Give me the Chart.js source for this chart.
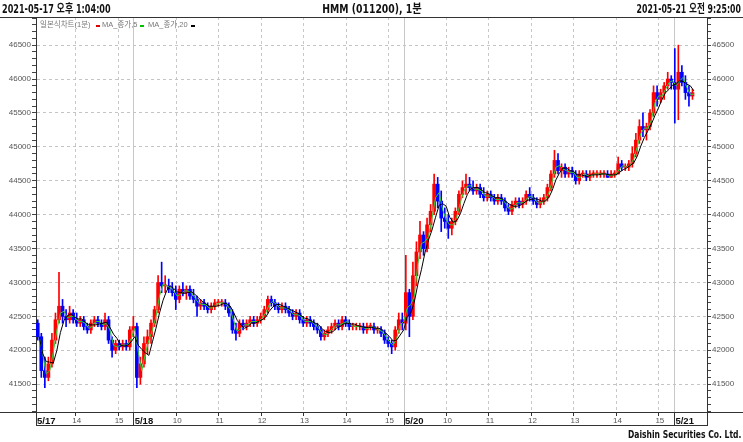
<!DOCTYPE html>
<html><head><meta charset="utf-8">
<script src="https://cdn.jsdelivr.net/npm/chart.js@4.4.1/dist/chart.umd.min.js"></script>
<style>
html,body{margin:0;padding:0;background:#fff;}
#wrap{position:relative;width:743px;height:442px;overflow:hidden;}
#c{position:absolute;left:0;top:0;}
.t{position:absolute;font-family:'DejaVu Sans Condensed','Noto Sans CJK KR',sans-serif;font-weight:bold;color:#111;white-space:nowrap;line-height:1;}
.lg{position:absolute;font-family:'Liberation Sans','Noto Sans CJK KR',sans-serif;font-size:7.5px;color:#777;white-space:nowrap;line-height:1;top:21px;}
.mk{position:absolute;width:4px;height:2px;top:25px;}
.hl{position:absolute;left:0;width:743px;height:1px;background:#333;}
</style></head>
<body><div id="wrap">
<canvas id="c" width="743" height="442"></canvas>
<div class="hl" style="top:17px"></div>
<div class="hl" style="top:412px"></div>
<div class="t" style="left:2px;top:3px;font-size:12px;transform:scaleX(0.75);transform-origin:left top">2021-05-17 오후 1:04:00</div>
<div class="t" style="left:372px;top:3px;font-size:12px;transform:translateX(-50%) scaleX(0.86);transform-origin:center top">HMM (011200), 1분</div>
<div class="t" style="right:2px;top:3px;font-size:12px;transform:scaleX(0.72);transform-origin:right top">2021-05-21 오전 9:25:00</div>
<div class="lg" style="left:40px">일본식차트(1분)</div><div class="mk" style="left:96px;background:#e00000"></div>
<div class="lg" style="left:102px">MA_종가,5</div><div class="mk" style="left:140px;background:#00c000"></div>
<div class="lg" style="left:148px">MA_종가,20</div><div class="mk" style="left:191px;background:#000"></div>
<div class="t" style="right:2px;top:429px;font-size:11px;transform:scaleX(0.77);transform-origin:right top">Daishin Securities Co. Ltd.</div>
</div>
<script>
// ---- data: 5-minute OHLC bars [open, high, low, close]
const ohlc0517 = [
 [42400,42450,42150,42200],[42200,42250,41600,41700],[41700,41900,41450,41600],[41600,41900,41550,41800],
 [41800,42250,41750,42150],[42150,42550,42100,42450],[42450,43150,42400,42650],[42650,42750,42400,42500],
 [42500,42600,42350,42450],[42450,42650,42400,42550],[42550,42600,42400,42450],[42450,42550,42350,42400],
 [42400,42500,42350,42450],[42450,42500,42300,42350],[42350,42400,42250,42300],[42300,42450,42250,42400],
 [42400,42500,42350,42450],[42450,42500,42350,42400],[42400,42450,42300,42350],[42350,42550,42300,42450],
 [42450,42500,42100,42150],[42150,42200,41900,42000],[42000,42150,41950,42100],[42100,42150,42000,42050],
 [42050,42150,42000,42100],[42100,42150,42000,42050],[42050,42350,42000,42300],[42300,42500,42200,42350]
];
const ohlc0518 = [
 [42350,42400,41450,41600],[41600,41900,41500,41800],[41800,42200,41750,42100],[42100,42300,41950,42200],
 [42200,42450,42100,42400],[42400,42650,42350,42600],[42600,43100,42550,43000],[43000,43300,42850,42950],
 [42950,43100,42850,42950],[42950,43050,42850,42900],[42900,43000,42800,42850],[42850,42950,42600,42750],
 [42750,42950,42700,42900],[42900,43000,42800,42850],[42850,42950,42750,42900],[42900,42950,42750,42800],
 [42800,42900,42700,42750],[42750,42800,42500,42650],[42650,42750,42600,42700],[42700,42750,42600,42650],
 [42650,42700,42550,42600],[42600,42700,42550,42650],[42650,42750,42600,42700],[42700,42750,42650,42700],
 [42700,42750,42650,42700],[42700,42750,42600,42650],[42650,42700,42500,42550],[42550,42600,42250,42300],
 [42300,42400,42150,42250],[42250,42450,42200,42400],[42400,42450,42300,42350],[42350,42450,42300,42400],
 [42400,42500,42350,42450],[42450,42500,42350,42400],[42400,42500,42350,42450],[42450,42550,42400,42500],
 [42500,42650,42450,42600],[42600,42800,42550,42750],[42750,42800,42650,42700],[42700,42750,42600,42650],
 [42650,42700,42550,42600],[42600,42700,42550,42650],[42650,42700,42550,42600],[42600,42650,42500,42550],
 [42550,42600,42450,42500],[42500,42600,42450,42550],[42550,42600,42400,42450],[42450,42500,42350,42400],
 [42400,42500,42350,42450],[42450,42500,42350,42400],[42400,42450,42300,42350],[42350,42400,42250,42300],
 [42300,42350,42150,42200],[42200,42300,42150,42250],[42250,42350,42200,42300],[42300,42400,42250,42350],
 [42350,42450,42300,42400],[42400,42450,42300,42350],[42350,42500,42300,42450],[42450,42500,42350,42400],
 [42400,42450,42300,42350],[42350,42400,42300,42350],[42350,42400,42300,42350],[42350,42400,42300,42350],
 [42350,42400,42250,42300],[42300,42400,42250,42350],[42350,42400,42300,42350],[42350,42400,42250,42300],
 [42300,42350,42250,42300],[42300,42350,42200,42250],[42250,42300,42100,42150],[42150,42200,42050,42100],
 [42100,42150,41950,42050],[42050,42350,42000,42300],[42300,42550,42250,42450],[42450,42550,42300,42400]
];
const ohlc0520 = [
 [42400,43400,42300,42850],[42850,42900,42200,42500],[42500,43300,42450,43100],[43100,43600,42950,43450],
 [43450,43900,43350,43700],[43700,43750,43400,43500],[43500,43950,43450,43850],[43850,44150,43750,44050],
 [44050,44600,44000,44450],[44450,44550,44100,44200],[44200,44350,43750,43950],[43950,44100,43800,43900],
 [43900,44000,43650,43800],[43800,43950,43700,43900],[43900,44100,43850,44050],[44050,44350,44000,44300],
 [44300,44500,44250,44400],[44400,44600,44300,44450],[44450,44550,44350,44400],[44400,44500,44300,44350],
 [44350,44450,44300,44400],[44400,44450,44250,44300],[44300,44400,44200,44250],[44250,44350,44200,44300],
 [44300,44350,44200,44250],[44250,44300,44150,44200],[44200,44300,44150,44250],[44250,44300,44150,44200],
 [44200,44250,44050,44100],[44100,44150,44000,44050],[44050,44200,44000,44150],[44150,44250,44100,44200],
 [44200,44250,44100,44150],[44150,44250,44100,44200],[44200,44350,44150,44300],[44300,44400,44200,44250],
 [44250,44300,44150,44200],[44200,44250,44100,44150],[44150,44250,44100,44200],[44200,44300,44150,44250],
 [44250,44450,44200,44400],[44400,44650,44350,44600],[44600,44950,44550,44800],[44800,44900,44600,44650],
 [44650,44750,44550,44700],[44700,44750,44550,44600],[44600,44700,44550,44650],[44650,44700,44550,44600],
 [44600,44650,44450,44500],[44500,44650,44450,44600],[44600,44650,44550,44600],[44600,44650,44500,44550],
 [44550,44650,44500,44600],[44600,44650,44550,44600],[44600,44650,44550,44600],[44600,44650,44550,44600],
 [44600,44650,44550,44600],[44600,44650,44550,44550],[44550,44650,44550,44600],[44600,44650,44550,44600],
 [44600,44850,44600,44750],[44750,44800,44650,44700],[44700,44750,44650,44700],[44700,44800,44650,44750],
 [44750,45000,44700,44900],[44900,45200,44850,45100],[45100,45400,45050,45300],[45300,45500,45150,45250],
 [45250,45350,45100,45300],[45300,45550,45250,45500],[45500,45900,45450,45800],[45800,45900,45600,45700],
 [45700,45850,45650,45800],[45800,45950,45700,45900],[45900,46100,45850,46000],[46000,46050,45850,45950]
];
const ohlc0521 = [
 [45950,46450,45350,45850],[45850,46500,45400,46100],[46100,46200,45900,45950],
 [45950,46050,45700,45800],[45800,45900,45600,45750],[45750,45850,45700,45800]
];
// ---- axis tick positions (minute index from 2021-05-17 13:04) and labels
const dayTickIdx = [0, 138, 520, 902];
const dayTickLabels = ['5/17', '5/18', '5/20', '5/21'];
const hourTickIdx = [56, 116, 198, 258, 318, 378, 438, 498, 580, 640, 700, 760, 820, 880];
const hourTickLabels = ['14', '15', '10', '11', '12', '13', '14', '15', '10', '11', '12', '13', '14', '15'];
const priceTickLabels = ['41500', '42000', '42500', '43000', '43500', '44000', '44500', '45000', '45500', '46000', '46500'];

const BAR_MIN = 5, X_MAX = 948, Y_MIN = 41090, Y_MAX = 46915;
const bars = ohlc0517.concat(ohlc0518, ohlc0520, ohlc0521);
const xOf = i => i * BAR_MIN + BAR_MIN / 2;
const closes = bars.map(b => b[3]);
function sma(arr, n) {
  return arr.map((_, i) => { const w = arr.slice(Math.max(0, i - n + 1), i + 1); return w.reduce((a, b) => a + b, 0) / w.length; });
}
const ma5 = sma(closes, 2);   // 5-minute average on 1-min data ~ 2 five-minute closes
const ma20 = sma(closes, 4);  // 20-minute average ~ 4 five-minute closes
const col = b => b[3] >= b[0] ? '#ff0000' : '#0000ff';

const F = "'Liberation Sans', Arial, sans-serif";
const hourMap = {}; hourTickIdx.forEach((v, i) => hourMap[v] = hourTickLabels[i]);
const dayMap = {}; dayTickIdx.forEach((v, i) => dayMap[v] = dayTickLabels[i]);
const isDay = v => dayMap[v] !== undefined || v === X_MAX;
const yTicks = []; for (let v = 41100; v <= 46900; v += 100) yTicks.push(v);
const isMajor = v => priceTickLabels.indexOf(String(v)) >= 0;

const yAxis = (pos) => ({
  type: 'linear', position: pos, min: Y_MIN, max: Y_MAX,
  afterFit: s => { s.width = 36; },
  afterBuildTicks: s => { s.ticks = yTicks.map(v => ({ value: v })); },
  ticks: { autoSkip: false, padding: 1, color: '#555', font: { size: 8, family: F },
    callback: v => isMajor(v) ? String(v) : '' },
  grid: { drawOnChartArea: pos === 'left', tickLength: 4, tickColor: '#444',
    color: c => (c.tick && isMajor(c.tick.value)) ? '#c4c4c4' : 'rgba(0,0,0,0)' },
  border: { display: true, color: '#333', dash: c => (c.tick ? [3, 3] : []) }
});

new Chart(document.getElementById('c'), {
  type: 'bar',
  data: {
    datasets: [
      { type: 'line', label: 'MA_종가,20', data: ma20.map((v, i) => ({ x: xOf(i) + 2, y: v })),
        borderColor: '#000', borderWidth: 1, pointRadius: 0, tension: 0, yAxisID: 'y', xAxisID: 'x', order: 0 },
      { type: 'line', label: 'MA_종가,5', data: ma5.map((v, i) => ({ x: xOf(i) + 2, y: v })),
        borderColor: '#33cc33', borderWidth: 1, pointRadius: 0, tension: 0, yAxisID: 'y', xAxisID: 'x', order: 1 },
      { label: 'wick', data: bars.map((b, i) => ({ x: xOf(i), y: [b[2], b[1]] })),
        backgroundColor: bars.map(col), barThickness: 1, grouped: false, borderWidth: 0, yAxisID: 'y', xAxisID: 'x', order: 3 },
      { label: '일본식차트(1분)', data: bars.map((b, i) => ({ x: xOf(i), y: [Math.min(b[0], b[3]), Math.max(b[0], b[3])] })),
        backgroundColor: bars.map(col), barThickness: 3, minBarLength: 1, grouped: false, borderWidth: 0, yAxisID: 'y', xAxisID: 'x', order: 2 }
    ]
  },
  options: {
    responsive: false, animation: false, devicePixelRatio: 1,
    layout: { padding: { top: 17, bottom: 17, left: 0, right: 0 } },
    plugins: { legend: { display: false }, tooltip: { enabled: false } },
    scales: {
      x: {
        type: 'linear', position: 'bottom', min: 0, max: X_MAX, offset: false, weight: 0,
        afterBuildTicks: s => { s.ticks = dayTickIdx.concat(hourTickIdx, [X_MAX]).sort((a, b) => a - b).map(v => ({ value: v })); },
        afterFit: s => { s.height = 13; },
        ticks: { autoSkip: false, maxRotation: 0, minRotation: 0, padding: -9, labelOffset: 1, color: '#555',
          font: { size: 8, family: F }, callback: v => hourMap[v] || '' },
        grid: { offset: false, tickLength: 13, tickColor: '#333',
          color: c => (c.tick && (c.tick.value === X_MAX || c.tick.value === 0)) ? '#333' : '#c8c8c8',
          tickBorderDash: c => (c.tick && isDay(c.tick.value)) ? [] : [3, 40] },
        border: { display: true, color: '#333', dash: c => (c.tick && !isDay(c.tick.value)) ? [3, 3] : [] }
      },
      x2: {
        type: 'linear', position: 'bottom', min: 0, max: X_MAX, offset: false, weight: 1,
        afterBuildTicks: s => { s.ticks = dayTickIdx.map(v => ({ value: v })); },
        afterFit: s => { s.height = 0; },
        ticks: { autoSkip: false, mirror: true, maxRotation: 0, minRotation: 0, align: 'start', padding: -2, labelOffset: 1, color: '#111',
          font: { size: 9.5, weight: 'bold', family: F }, callback: v => dayMap[v] || '' },
        grid: { display: true, drawOnChartArea: false, drawTicks: false, offset: false },
        border: { display: true, color: '#333' }
      },
      y: yAxis('left'),
      y2: yAxis('right')
    }
  }
});
</script>
</body></html>
